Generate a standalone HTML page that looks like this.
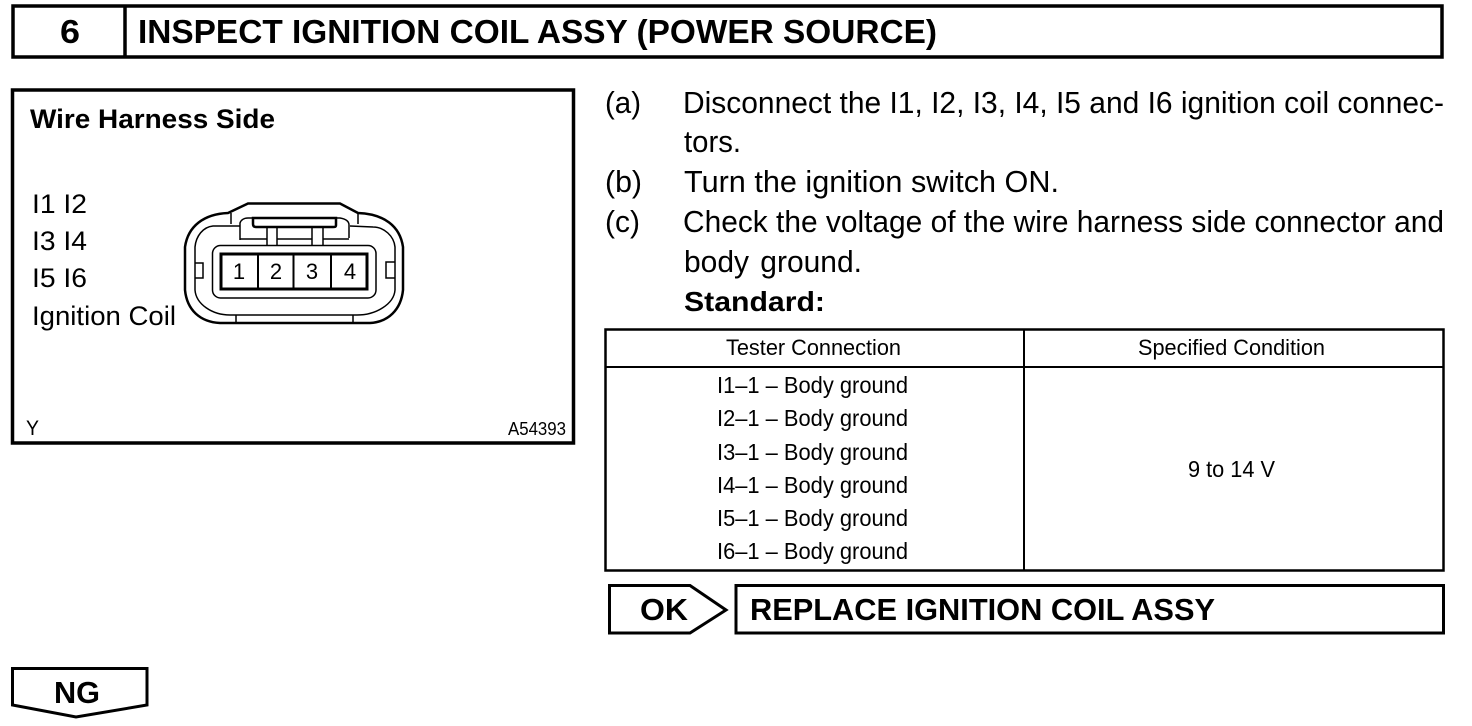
<!DOCTYPE html>
<html><head><meta charset="utf-8"><style>
html,body{margin:0;padding:0;background:#fff;width:1472px;height:726px;overflow:hidden}
svg{display:block}
text{font-family:"Liberation Sans",sans-serif;fill:#000}
.b{font-weight:bold}
.m{font-size:31px}
</style></head><body>
<svg width="1472" height="726" viewBox="0 0 1472 726" xmlns="http://www.w3.org/2000/svg">
<g fill="none" stroke="#000" stroke-width="3">
<rect x="13" y="6" width="1429" height="51" stroke-width="3.5"/>
<line x1="125" y1="6" x2="125" y2="57" stroke-width="3.5"/>
<rect x="12.5" y="90" width="561" height="353" stroke-width="3.5"/>
<rect x="605.5" y="329.5" width="838" height="241" stroke-width="2.5"/>
<line x1="605" y1="367" x2="1444" y2="367" stroke-width="2"/>
<line x1="1024" y1="329" x2="1024" y2="570" stroke-width="2"/>
<path d="M609.5 585.5H690L726 610L690 633H609.5Z" stroke-width="3"/>
<rect x="736" y="585.5" width="707.5" height="47.5" stroke-width="3"/>
<path d="M12.5 668.5H147V705L76 717L12.5 705Z" stroke-width="3"/>
</g>
<text class="b" x="60" y="43" font-size="33" textLength="20" lengthAdjust="spacingAndGlyphs">6</text>
<text class="b" x="138" y="43" font-size="33" textLength="799" lengthAdjust="spacingAndGlyphs">INSPECT IGNITION COIL ASSY (POWER SOURCE)</text>
<text class="b" x="30" y="128" font-size="27" textLength="245" lengthAdjust="spacingAndGlyphs">Wire Harness Side</text>
<text x="32" y="213" font-size="27" textLength="55" lengthAdjust="spacingAndGlyphs">I1 I2</text>
<text x="32" y="250" font-size="27" textLength="55" lengthAdjust="spacingAndGlyphs">I3 I4</text>
<text x="32" y="287" font-size="27" textLength="55" lengthAdjust="spacingAndGlyphs">I5 I6</text>
<text x="32" y="325" font-size="27" textLength="144" lengthAdjust="spacingAndGlyphs">Ignition Coil</text>
<text x="26" y="435" font-size="21" textLength="13" lengthAdjust="spacingAndGlyphs">Y</text>
<text x="508" y="435" font-size="18" textLength="58" lengthAdjust="spacingAndGlyphs">A54393</text>

<!-- connector -->
<g fill="none" stroke="#000">
<path d="M228 213L248 203.500H340L358 213C384 214 400 226 403 247V290C401 310 388 322 370 323H220C200 322 187 310 185 290V247C188 226 204 214 228 213Z" stroke-width="2.500"/>
<path d="M240 226H213C203 227 196 236 195 247V290C196 304 212 315 230 315H357C376 315 394 304 395 290V247C394 236 384 227 373 227L350 226" stroke-width="1.500"/>
<path d="M231 213V224M358 213V224" stroke-width="1.500"/>
<path d="M240 240V223C241 220 244 218 248 218H340C346 219 349 221 349 225V238" stroke-width="1.500"/>
<path d="M253 218H336V225C336 227 335 227 333 227H256C254 227 253 226 253 224Z" stroke-width="2.500"/>
<path d="M267 227V245M277 227V245M312 227V245M323 227V245M277 239H312M240 239H267M323 239H349" stroke-width="1.500"/>
<rect x="212.500" y="245.500" width="163.500" height="52.500" rx="8" stroke-width="1.500"/>
<path d="M195 263H203V278H195M395 262H386V278H395" stroke-width="1.500"/>
<rect x="221" y="254" width="146" height="35" stroke-width="3"/>
<path d="M258 254V289M293.500 254V289M331 254V289" stroke-width="2"/>
<path d="M236 315V323M353 315V323" stroke-width="1.500"/>
</g>
<g font-size="22" text-anchor="middle">
<text x="239" y="279">1</text><text x="276" y="279">2</text><text x="312" y="279">3</text><text x="350" y="279">4</text>
</g>

<!-- right text -->
<text class="m" x="605" y="113" textLength="36" lengthAdjust="spacingAndGlyphs">(a)</text>
<text class="m" x="683" y="113" textLength="761" lengthAdjust="spacingAndGlyphs">Disconnect the I1, I2, I3, I4, I5 and I6 ignition coil connec-</text>
<text class="m" x="684" y="152" textLength="57" lengthAdjust="spacingAndGlyphs">tors.</text>
<text class="m" x="605" y="192" textLength="37" lengthAdjust="spacingAndGlyphs">(b)</text>
<text class="m" x="684" y="192" textLength="375" lengthAdjust="spacingAndGlyphs">Turn the ignition switch ON.</text>
<text class="m" x="605" y="232" textLength="35" lengthAdjust="spacingAndGlyphs">(c)</text>
<text class="m" x="683" y="232" textLength="761" lengthAdjust="spacingAndGlyphs">Check the voltage of the wire harness side connector and</text>
<text class="m" x="684" y="272" textLength="178" lengthAdjust="spacingAndGlyphs" word-spacing="3">body ground.</text>
<text class="b" x="684" y="311" font-size="28" textLength="141" lengthAdjust="spacingAndGlyphs">Standard:</text>

<!-- table -->
<text x="726" y="355" font-size="22" textLength="175" lengthAdjust="spacingAndGlyphs">Tester Connection</text>
<text x="1138" y="355" font-size="22" textLength="187" lengthAdjust="spacingAndGlyphs">Specified Condition</text>
<text x="717" y="393" font-size="23" textLength="191" lengthAdjust="spacingAndGlyphs">I1–1 – Body ground</text>
<text x="717" y="426" font-size="23" textLength="191" lengthAdjust="spacingAndGlyphs">I2–1 – Body ground</text>
<text x="717" y="460" font-size="23" textLength="191" lengthAdjust="spacingAndGlyphs">I3–1 – Body ground</text>
<text x="717" y="493" font-size="23" textLength="191" lengthAdjust="spacingAndGlyphs">I4–1 – Body ground</text>
<text x="717" y="526" font-size="23" textLength="191" lengthAdjust="spacingAndGlyphs">I5–1 – Body ground</text>
<text x="717" y="559" font-size="23" textLength="191" lengthAdjust="spacingAndGlyphs">I6–1 – Body ground</text>
<text x="1188" y="477" font-size="23" textLength="87" lengthAdjust="spacingAndGlyphs">9 to 14 V</text>

<text class="b" x="640" y="620" font-size="31" textLength="48" lengthAdjust="spacingAndGlyphs">OK</text>
<text class="b" x="750" y="620" font-size="31" textLength="465" lengthAdjust="spacingAndGlyphs">REPLACE IGNITION COIL ASSY</text>
<text class="b" x="54" y="703" font-size="31" textLength="46" lengthAdjust="spacingAndGlyphs">NG</text>
</svg>
</body></html>
